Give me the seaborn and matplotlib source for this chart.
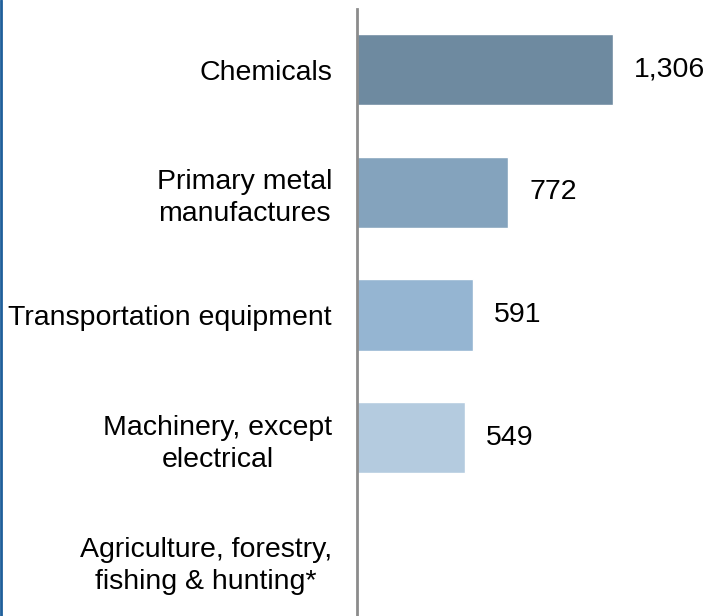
import numpy as np
import pandas as pd
import seaborn as sns
import matplotlib.pyplot as plt
from matplotlib.lines import Line2D

# Data
categories = ["Chemicals", "Primary metal\nmanufactures", "Transportation equipment",
              "Machinery, except\nelectrical", "Agriculture, forestry,\nfishing & hunting*"]
values = [1306, 772, 591, 549, np.nan]
value_labels = ["1,306", "772", "591", "549", ""]
bar_colors = ["#6e8aa0", "#84a3bd", "#95b5d2", "#b4cbdf", "#c8d8e8"]

df = pd.DataFrame({"category": categories, "value": values})

sns.set_theme(style="white")
plt.rcParams['font.family'] = ['Liberation Sans', 'DejaVu Sans']

fig = plt.figure(figsize=(7.07, 6.16), dpi=100)
ax = fig.add_axes([357 / 707, 0, 1 - 357 / 707, 607 / 616])

sns.barplot(data=df, y="category", x="value", hue="category", order=categories,
            hue_order=categories, palette=dict(zip(categories, bar_colors)),
            width=0.58, legend=False, saturation=1, ax=ax)

ax.set_xlim(0, 1786)
ax.set_ylim(4.455, -0.496)

# value labels to the right of each bar
for i, (v, lab) in enumerate(zip(values, value_labels)):
    if not np.isnan(v):
        ax.annotate(lab, (v, i), xytext=(15, 0), textcoords="offset points",
                    va="center", ha="left", fontsize=20.5, color="black")

ax.set_xlabel("")
ax.set_ylabel("")
ax.set_xticks([])
ax.tick_params(axis="y", length=0, pad=18, labelsize=20.5, labelcolor="black")
for t in ax.get_yticklabels():
    t.set_multialignment("center")
    t.set_linespacing(1.3)

for s in ["top", "right", "bottom"]:
    ax.spines[s].set_visible(False)
ax.spines["left"].set_color("#8c8c8c")
ax.spines["left"].set_linewidth(2)

# thin blue frame line on the left edge of the figure
fig.add_artist(Line2D([0.0015, 0.0015], [0, 1], transform=fig.transFigure,
                      color="#1f5f9a", linewidth=2))

fig.savefig("out.png", dpi=100)
